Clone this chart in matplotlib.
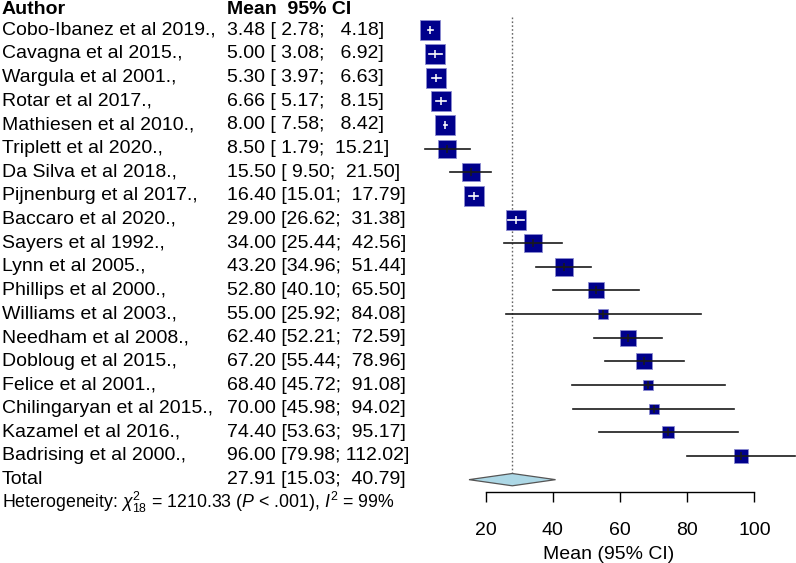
import matplotlib.pyplot as plt
import matplotlib.transforms as mtransforms
import numpy as np

plt.rcParams['font.family'] = ['Liberation Sans', 'DejaVu Sans']
plt.rcParams['mathtext.fontset'] = 'custom'
plt.rcParams['mathtext.rm'] = 'Liberation Sans'
plt.rcParams['mathtext.it'] = 'Liberation Sans:italic'

# study data
authors = ['Cobo-Ibanez et al 2019.,', 'Cavagna et al 2015.,', 'Wargula et al 2001.,',
           'Rotar et al 2017.,', 'Mathiesen et al 2010.,', 'Triplett et al 2020.,',
           'Da Silva et al 2018.,', 'Pijnenburg et al 2017.,', 'Baccaro et al 2020.,',
           'Sayers et al 1992.,', 'Lynn et al 2005.,', 'Phillips et al 2000.,',
           'Williams et al 2003.,', 'Needham et al 2008.,', 'Dobloug et al 2015.,',
           'Felice et al 2001.,', 'Chilingaryan et al 2015.,', 'Kazamel et al 2016.,',
           'Badrising et al 2000.,']
means = [3.48, 5.00, 5.30, 6.66, 8.00, 8.50, 15.50, 16.40, 29.00, 34.00, 43.20,
         52.80, 55.00, 62.40, 67.20, 68.40, 70.00, 74.40, 96.00]
lower = [2.78, 3.08, 3.97, 5.17, 7.58, 1.79, 9.50, 15.01, 26.62, 25.44, 34.96,
         40.10, 25.92, 52.21, 55.44, 45.72, 45.98, 53.63, 79.98]
upper = [4.18, 6.92, 6.63, 8.15, 8.42, 15.21, 21.50, 17.79, 31.38, 42.56, 51.44,
         65.50, 84.08, 72.59, 78.96, 91.08, 94.02, 95.17, 112.02]
# estimated study weights (%)
weights = [5.5, 5.5, 5.5, 5.5, 5.5, 4.6, 4.8, 5.3, 5.3, 4.1, 4.1, 3.1, 1.2,
           3.65, 3.4, 1.4, 1.6, 2.0, 2.7]
total_mean, total_lower, total_upper = 27.91, 15.03, 40.79
xticks = [20, 40, 60, 80, 100]

W, H = 796, 563
fig = plt.figure(figsize=(W / 100, H / 100), dpi=100)
ax = fig.add_axes([0, 0, 1, 1])

# pixel layout -> data limits
x0_px, px_per_unit = 418.5, 3.36
row0_px, row_h = 30.3, 23.65
ax.set_xlim(-x0_px / px_per_unit, (W - x0_px) / px_per_unit)
ax.set_ylim((H - row0_px) / row_h, -row0_px / row_h)

n = len(authors)
rows = np.arange(n)
fs = 14
tr = mtransforms.blended_transform_factory(ax.transAxes, ax.transData)

# header
ax.text(2 / W, -0.86, 'Author', transform=tr, fontsize=fs, fontweight='bold', va='center')
ax.text(227 / W, -0.86, 'Mean  95% CI', transform=tr, fontsize=fs, fontweight='bold', va='center')

def ci_text(m, lo, hi):
    return f'{m:.2f} [{lo:5.2f}; {hi:6.2f}]'

for i in range(n):
    ax.text(2 / W, rows[i], authors[i], transform=tr, fontsize=fs, va='center')
    ax.text(227 / W, rows[i], ci_text(means[i], lower[i], upper[i]),
            transform=tr, fontsize=fs, va='center')

    side = 20 * np.sqrt(weights[i] / max(weights))  # px
    hw = side / 2 / px_per_unit
    inside = lower[i] >= means[i] - hw and upper[i] <= means[i] + hw
    ax.plot(means[i], rows[i], marker='s', ms=side * 0.72, mfc='#00008B',
            mec='#8C8CD0', mew=0.6, zorder=3)
    lc = 'white' if inside else '#1a1a1a'
    ax.plot([lower[i], upper[i]], [rows[i], rows[i]], color=lc, lw=1.2, zorder=4)
    ax.plot(means[i], rows[i], marker='|', ms=5.5, color=lc, mew=1.1, zorder=4)

# total
yt = n
ax.text(2 / W, yt, 'Total', transform=tr, fontsize=fs, va='center')
ax.text(227 / W, yt, ci_text(total_mean, total_lower, total_upper),
        transform=tr, fontsize=fs, va='center')
dh = 0.26
ax.fill([total_lower, total_mean, total_upper, total_mean],
        [yt, yt - dh, yt, yt + dh], facecolor='#ADD8E6', edgecolor='#555555',
        lw=0.9, zorder=3)
ax.plot([total_mean, total_mean], [-0.56, yt - dh], color='#666666', lw=1.0,
        ls=(0, (1.2, 1.6)), zorder=1)

ax.text(2 / W, n + 0.98,
        r'Heterogeneity: $\chi^2_{18}$ = 1210.33 ($P$ < .001), $I^2$ = 99%',
        transform=tr, fontsize=12.8, va='center')

# x axis
for s in ['top', 'left', 'right']:
    ax.spines[s].set_visible(False)
ax.spines['bottom'].set_position(('data', 19.51))
ax.spines['bottom'].set_bounds(xticks[0], xticks[-1])
ax.spines['bottom'].set_linewidth(1.0)
ax.set_xticks(xticks)
ax.set_yticks([])
ax.tick_params(axis='x', direction='out', length=7.5, width=1.0, pad=14, labelsize=fs)
ax.set_xlabel('Mean (95% CI)', fontsize=fs)
ax.xaxis.set_label_coords(609 / W, 17 / H)
ax.set_facecolor('none')

fig.savefig('out.png', dpi=100)
